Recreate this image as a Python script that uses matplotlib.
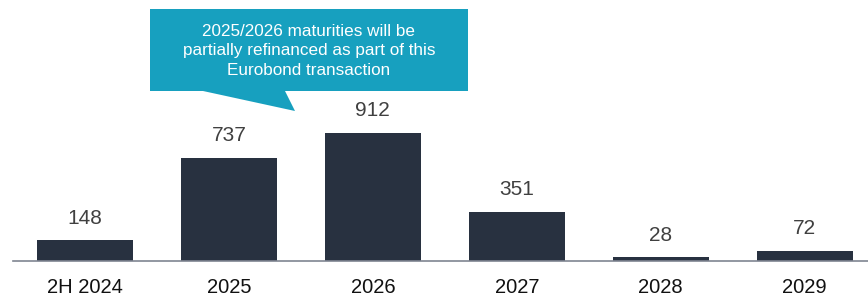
import matplotlib.pyplot as plt
from matplotlib.patches import Polygon

categories = ['2H 2024', '2025', '2026', '2027', '2028', '2029']
values = [148, 737, 912, 351, 28, 72]
callout_text = '2025/2026 maturities will be\npartially refinanced as part of this\nEurobond transaction'

W, H = 868, 299
fig = plt.figure(figsize=(W / 100, H / 100), dpi=100)
plt.rcParams['font.family'] = ['Liberation Sans', 'DejaVu Sans']

# axes in pixel terms: left 13, right 868, baseline at y=261
ax = fig.add_axes([13 / W, (H - 261) / H, (W - 13) / W, 261 / H])
x = range(len(categories))
bars = ax.bar(x, values, width=0.667, color='#283140', zorder=2)
ax.set_xlim(-0.5, 5.44)
ax.set_ylim(0, 1859)

for b, v in zip(bars, values):
    ax.annotate(str(v), (b.get_x() + b.get_width() / 2, v), xytext=(0, 9),
                textcoords='offset points', ha='center', va='bottom',
                fontsize=15, color='#404040')

ax.set_xticks(list(x))
ax.set_xticklabels(categories, fontsize=14.5, color='#111111')
ax.tick_params(axis='x', length=0, pad=12)
ax.set_yticks([])
for s in ['top', 'right', 'left']:
    ax.spines[s].set_visible(False)
ax.spines['bottom'].set_color('#7f8591')
ax.spines['bottom'].set_linewidth(1.2)

# callout box with pointer (figure pixel coords, y from top)
pts = [(150, 9), (468, 9), (468, 91), (285, 91), (295, 111), (203, 91), (150, 91)]
poly = Polygon([(px / W, 1 - py / H) for px, py in pts], closed=True,
               transform=fig.transFigure, facecolor='#17a0bf', edgecolor='none')
fig.patches.append(poly)
fig.text(309 / W, 1 - 51 / H, callout_text, ha='center', va='center',
         color='white', fontsize=12.3, linespacing=1.4)

fig.savefig('out.png', dpi=100)
